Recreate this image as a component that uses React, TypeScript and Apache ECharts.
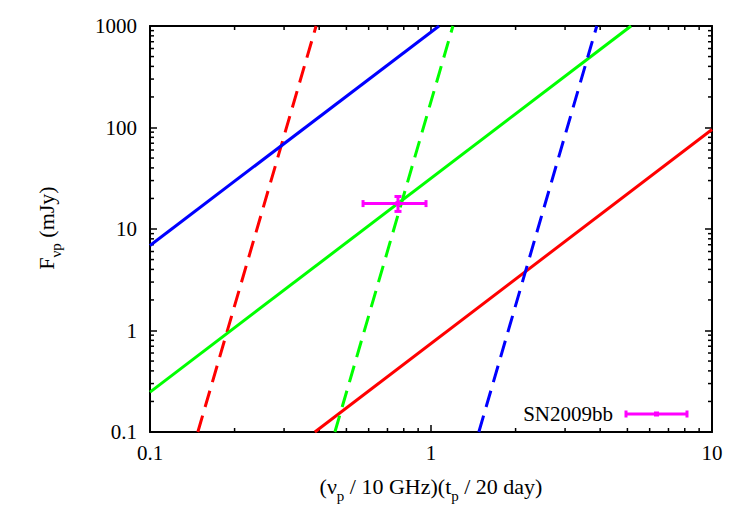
import React, { useEffect, useRef } from 'react';
import * as echarts from 'echarts';

const X_MIN = 0.1;
const X_MAX = 10;
const Y_MIN = 0.1;
const Y_MAX = 1000;

const X_MINOR = [0.2, 0.3, 0.4, 0.5, 0.6, 0.7, 0.8, 0.9, 2, 3, 4, 5, 6, 7, 8, 9];
const Y_MINOR = [
  0.2, 0.3, 0.4, 0.5, 0.6, 0.7, 0.8, 0.9,
  2, 3, 4, 5, 6, 7, 8, 9,
  20, 30, 40, 50, 60, 70, 80, 90,
  200, 300, 400, 500, 600, 700, 800, 900,
];

// solid lines
const redSolid = [[0.386, 0.1], [10, 95.6]];
const greenSolid = [[0.1, 0.247], [5.15, 1000]];
const blueSolid = [[0.1, 6.88], [1.068, 1000]];
// dashed lines
const redDashed = [[0.148, 0.1], [0.39, 1000]];
const greenDashed = [[0.455, 0.1], [1.197, 1000]];
const blueDashed = [[1.48, 0.1], [3.89, 1000]];
// SN2009bb: x, y, xLow, xHigh, yLow, yHigh
const sn2009bb = [[0.763, 17.8, 0.573, 0.96, 14.9, 20.9]];

const RED = '#ff0000';
const GREEN = '#00ff00';
const BLUE = '#0000ff';
const MAGENTA = '#ff00ff';
const FONT = "'Liberation Serif', 'Times New Roman', Times, serif";

export default function App() {
  const ref = useRef<HTMLDivElement>(null);

  useEffect(() => {
    if (!ref.current) return;
    const chart = echarts.init(ref.current, undefined, { renderer: 'svg' });

    const axisLine = { show: true, onZero: false, lineStyle: { color: '#000', width: 2 } };
    const axisTick = { show: true, inside: true, length: 7, lineStyle: { color: '#000', width: 1.5 } };
    const labelStyle = { color: '#000', fontFamily: FONT, fontSize: 21 };
    const fmt = (v: number) => (v < 1 ? v.toFixed(1) : String(Math.round(v)));

    const lineSeries = (data: number[][], color: string, dashed: boolean) => ({
      type: 'line',
      data,
      xAxisIndex: 0,
      yAxisIndex: 0,
      showSymbol: false,
      symbol: 'none',
      silent: true,
      lineStyle: { color, width: 3, type: dashed ? [17, 9] : 'solid' },
    });

    const tickStyle = { stroke: '#000', lineWidth: 1.5 };
    const rich = {
      n: { fontFamily: FONT, fontSize: 22, fill: '#000', lineHeight: 24, verticalAlign: 'top' },
      s: { fontFamily: FONT, fontSize: 15, fill: '#000', lineHeight: 28, verticalAlign: 'bottom' },
    };

    chart.setOption({
      animation: false,
      grid: { left: 150, right: 35, top: 26, bottom: 91 },
      xAxis: [
        {
          type: 'log', logBase: 10, min: X_MIN, max: X_MAX, position: 'bottom',
          axisLine, axisTick, splitLine: { show: false },
          axisLabel: { ...labelStyle, margin: 10, formatter: fmt },
        },
        {
          type: 'log', logBase: 10, min: X_MIN, max: X_MAX, position: 'top',
          axisLine, axisTick, splitLine: { show: false }, axisLabel: { show: false },
        },
      ],
      yAxis: [
        {
          type: 'log', logBase: 10, min: Y_MIN, max: Y_MAX, position: 'left',
          axisLine, axisTick, splitLine: { show: false },
          axisLabel: { ...labelStyle, margin: 13, formatter: fmt },
        },
        {
          type: 'log', logBase: 10, min: Y_MIN, max: Y_MAX, position: 'right',
          axisLine, axisTick, splitLine: { show: false }, axisLabel: { show: false },
        },
      ],
      series: [
        {
          type: 'custom', xAxisIndex: 0, yAxisIndex: 0, silent: true, clip: false,
          data: X_MINOR.map((v) => [v, 1]),
          renderItem: (_p: any, api: any) => {
            const v = api.value(0);
            const b = api.coord([v, Y_MIN]);
            const t = api.coord([v, Y_MAX]);
            return {
              type: 'group',
              children: [
                { type: 'line', shape: { x1: b[0], y1: b[1], x2: b[0], y2: b[1] - 4 }, style: tickStyle },
                { type: 'line', shape: { x1: t[0], y1: t[1], x2: t[0], y2: t[1] + 4 }, style: tickStyle },
              ],
            };
          },
        },
        {
          type: 'custom', xAxisIndex: 0, yAxisIndex: 0, silent: true, clip: false,
          data: Y_MINOR.map((v) => [1, v]),
          renderItem: (_p: any, api: any) => {
            const v = api.value(1);
            const l = api.coord([X_MIN, v]);
            const r = api.coord([X_MAX, v]);
            return {
              type: 'group',
              children: [
                { type: 'line', shape: { x1: l[0], y1: l[1], x2: l[0] + 4, y2: l[1] }, style: tickStyle },
                { type: 'line', shape: { x1: r[0], y1: r[1], x2: r[0] - 4, y2: r[1] }, style: tickStyle },
              ],
            };
          },
        },
        lineSeries(redSolid, RED, false),
        lineSeries(redDashed, RED, true),
        lineSeries(greenSolid, GREEN, false),
        lineSeries(greenDashed, GREEN, true),
        lineSeries(blueSolid, BLUE, false),
        lineSeries(blueDashed, BLUE, true),
        {
          type: 'custom', xAxisIndex: 0, yAxisIndex: 0, silent: true, clip: false, z: 5,
          data: sn2009bb,
          renderItem: (_p: any, api: any) => {
            const c = api.coord([api.value(0), api.value(1)]);
            const l = api.coord([api.value(2), api.value(1)]);
            const r = api.coord([api.value(3), api.value(1)]);
            const lo = api.coord([api.value(0), api.value(4)]);
            const hi = api.coord([api.value(0), api.value(5)]);
            const st = { stroke: MAGENTA, lineWidth: 3 };
            return {
              type: 'group',
              children: [
                { type: 'line', shape: { x1: l[0], y1: l[1], x2: r[0], y2: r[1] }, style: st },
                { type: 'line', shape: { x1: lo[0], y1: lo[1], x2: hi[0], y2: hi[1] }, style: st },
                { type: 'line', shape: { x1: l[0], y1: l[1] - 3.5, x2: l[0], y2: l[1] + 3.5 }, style: st },
                { type: 'line', shape: { x1: r[0], y1: r[1] - 3.5, x2: r[0], y2: r[1] + 3.5 }, style: st },
                { type: 'line', shape: { x1: lo[0] - 3.5, y1: lo[1], x2: lo[0] + 3.5, y2: lo[1] }, style: st },
                { type: 'line', shape: { x1: hi[0] - 3.5, y1: hi[1], x2: hi[0] + 3.5, y2: hi[1] }, style: st },
                { type: 'rect', shape: { x: c[0] - 2.5, y: c[1] - 2.5, width: 5, height: 5 }, style: { fill: MAGENTA } },
              ],
            };
          },
        },
      ],
      graphic: [
        {
          type: 'text', x: 431, y: 489,
          style: {
            text: '{n|(ν}{s|p}{n| / 10 GHz)(t}{s|p}{n| / 20 day)}',
            align: 'center', verticalAlign: 'middle', rich,
          },
        },
        {
          type: 'text', x: 49, y: 228, rotation: Math.PI / 2,
          style: {
            text: '{n|F}{s|νp}{n| (mJy)}',
            align: 'center', verticalAlign: 'middle', rich,
          },
        },
        {
          type: 'text', x: 613, y: 414,
          style: {
            text: 'SN2009bb', fontFamily: FONT, fontSize: 21, fill: '#000',
            align: 'right', verticalAlign: 'middle',
          },
        },
        { type: 'line', shape: { x1: 626, y1: 414, x2: 687, y2: 414 }, style: { stroke: MAGENTA, lineWidth: 3 } },
        { type: 'line', shape: { x1: 626, y1: 410.5, x2: 626, y2: 417.5 }, style: { stroke: MAGENTA, lineWidth: 3 } },
        { type: 'line', shape: { x1: 687, y1: 410.5, x2: 687, y2: 417.5 }, style: { stroke: MAGENTA, lineWidth: 3 } },
        { type: 'rect', shape: { x: 654, y: 411.5, width: 5, height: 5 }, style: { fill: MAGENTA } },
      ],
    });

    return () => chart.dispose();
  }, []);

  return (
    <div
      ref={ref}
      style={{ position: 'fixed', left: 0, top: 0, width: 747, height: 523, background: '#fff' }}
    />
  );
}
